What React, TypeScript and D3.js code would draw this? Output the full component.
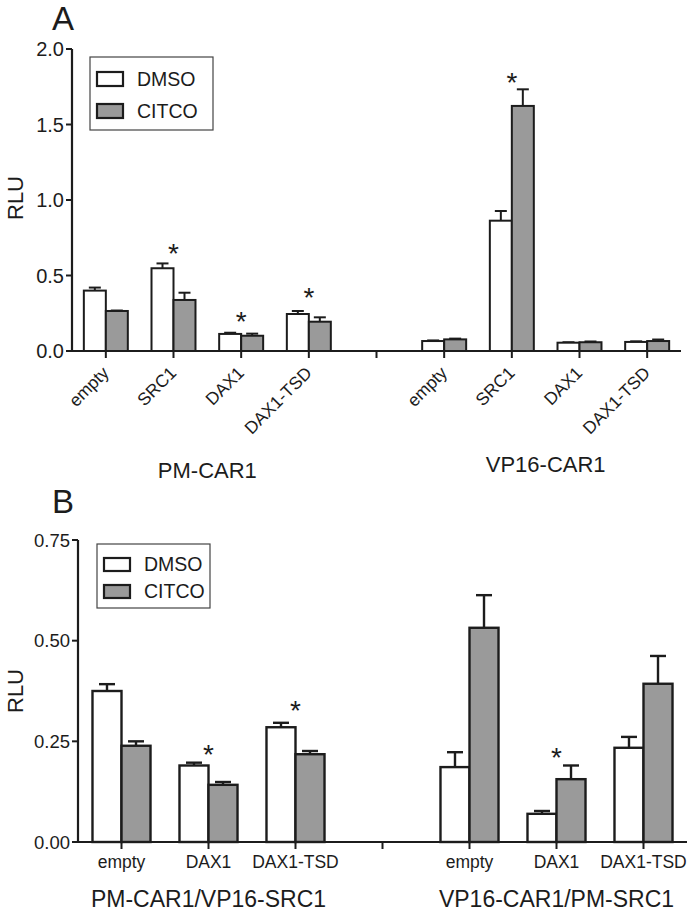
import React from "react";
import * as d3 from "d3";

// ---------- Panel A data ----------
const groupsA = ["PM-CAR1", "VP16-CAR1"];
const categoriesA = ["empty", "SRC1", "DAX1", "DAX1-TSD"];
const dmsoA = [0.40, 0.548, 0.113, 0.245, 0.066, 0.863, 0.055, 0.06];
const dmsoErrA = [0.02, 0.032, 0.008, 0.02, 0.004, 0.064, 0.003, 0.004];
const citcoA = [0.265, 0.338, 0.101, 0.194, 0.077, 1.623, 0.058, 0.066];
const citcoErrA = [0.003, 0.048, 0.014, 0.029, 0.005, 0.11, 0.005, 0.01];
const starIdxA = [1, 2, 3, 5];
const starValA = [0.675, 0.225, 0.385, 1.81];
const yTicksA = [0, 0.5, 1.0, 1.5, 2.0];

// ---------- Panel B data ----------
const groupsB = ["PM-CAR1/VP16-SRC1", "VP16-CAR1/PM-SRC1"];
const categoriesB = ["empty", "DAX1", "DAX1-TSD"];
const dmsoB = [0.375, 0.19, 0.285, 0.186, 0.07, 0.234];
const dmsoErrB = [0.017, 0.007, 0.011, 0.037, 0.007, 0.027];
const citcoB = [0.239, 0.142, 0.218, 0.532, 0.156, 0.393];
const citcoErrB = [0.011, 0.007, 0.008, 0.081, 0.034, 0.069];
const starIdxB = [1, 2, 4];
const starValB = [0.228, 0.338, 0.222];
const yTicksB = [0, 0.25, 0.5, 0.75];

const legendLabels = ["DMSO", "CITCO"];
const FONT = "'Liberation Sans', Arial, sans-serif";
const INK = "#1c1c1c";
const GRAY = "#9a9a9a";

type PanelProps = {
  letter: string;
  letterY: number;
  groups: string[];
  cats: string[];
  dmso: number[];
  dmsoErr: number[];
  citco: number[];
  citcoErr: number[];
  starIdx: number[];
  starVal: number[];
  yTicks: number[];
  yMax: number;
  tickFmt: (v: number) => string;
  x0: number;
  x1: number;
  yTop: number;
  yBottom: number;
  barFrac: number;
  capW: number;
  strokeW: number;
  tickFont: number;
  rotated: boolean;
  catFont: number;
  catY: number;
  groupFont: number;
  groupY: number[];
  rluY: number;
  legend: { x: number; y: number; w: number; h: number; rowY: number[]; sw: number; sh: number; font: number };
};

function Panel(p: PanelProps) {
  const slots: string[] = [];
  p.groups.forEach((g, gi) => {
    p.cats.forEach((c) => slots.push(`${gi}|${c}`));
    if (gi < p.groups.length - 1) slots.push(`gap${gi}`);
  });
  const x = d3.scaleBand<string>().domain(slots).range([p.x0, p.x1]).padding(0);
  const y = d3.scaleLinear().domain([0, p.yMax]).range([p.yBottom, p.yTop]);
  const inner = d3
    .scaleBand<string>()
    .domain(["DMSO", "CITCO"])
    .range([0, x.bandwidth() * p.barFrac]);
  const offset = (x.bandwidth() * (1 - p.barFrac)) / 2;

  const items: { key: string; cx: number; i: number; cat: string }[] = [];
  let idx = 0;
  p.groups.forEach((g, gi) => {
    p.cats.forEach((c) => {
      const key = `${gi}|${c}`;
      items.push({ key, cx: (x(key) as number) + x.bandwidth() / 2, i: idx, cat: c });
      idx++;
    });
  });

  const gapTicks = slots.filter((s) => s.startsWith("gap")).map((s) => (x(s) as number) + x.bandwidth() / 2);

  const groupCenters = p.groups.map((g, gi) => {
    const first = items[gi * p.cats.length];
    const last = items[gi * p.cats.length + p.cats.length - 1];
    return (first.cx + last.cx) / 2;
  });

  const bar = (cx: number, series: string, v: number, e: number, fill: string, k: string) => {
    const left = cx - x.bandwidth() / 2 + offset + (inner(series) as number);
    const w = inner.bandwidth();
    const mid = left + w / 2;
    return (
      <g key={k}>
        {e > 0 && (
          <g stroke={INK} strokeWidth={p.strokeW}>
            <line x1={mid} x2={mid} y1={y(v)} y2={y(v + e)} />
            <line x1={mid - p.capW / 2} x2={mid + p.capW / 2} y1={y(v + e)} y2={y(v + e)} />
          </g>
        )}
        <rect x={left} y={y(v)} width={w} height={y(0) - y(v)} fill={fill} stroke={INK} strokeWidth={p.strokeW} />
      </g>
    );
  };

  return (
    <g fontFamily={FONT} fill={INK}>
      <text x={52} y={p.letterY} fontSize={33}>
        {p.letter}
      </text>
      <text
        transform={`translate(${23},${p.rluY}) rotate(-90)`}
        textAnchor="middle"
        fontSize={22}
      >
        RLU
      </text>
      {/* bars */}
      {items.map((it) => (
        <g key={it.key}>
          {bar(it.cx, "DMSO", p.dmso[it.i], p.dmsoErr[it.i], "#ffffff", "d")}
          {bar(it.cx, "CITCO", p.citco[it.i], p.citcoErr[it.i], GRAY, "c")}
        </g>
      ))}
      {/* y axis */}
      <line x1={p.x0} x2={p.x0} y1={y(p.yMax)} y2={y(0)} stroke={INK} strokeWidth={2.2} />
      {p.yTicks.map((t) => (
        <g key={t}>
          <line x1={p.x0 - 6} x2={p.x0} y1={y(t)} y2={y(t)} stroke={INK} strokeWidth={2} />
          <text x={p.x0 - 8} y={y(t)} dy="0.36em" textAnchor="end" fontSize={p.tickFont}>
            {p.tickFmt(t)}
          </text>
        </g>
      ))}
      {/* x axis */}
      <line x1={p.x0 - 6} x2={p.x1} y1={y(0)} y2={y(0)} stroke={INK} strokeWidth={2.2} />
      {items.map((it) => (
        <line key={"t" + it.key} x1={it.cx} x2={it.cx} y1={y(0)} y2={y(0) + 7} stroke={INK} strokeWidth={2} />
      ))}
      {gapTicks.map((gx, i) => (
        <line key={"g" + i} x1={gx} x2={gx} y1={y(0)} y2={y(0) + 7} stroke={INK} strokeWidth={2} />
      ))}
      {/* category labels */}
      {items.map((it) =>
        p.rotated ? (
          <text
            key={"l" + it.key}
            transform={`translate(${it.cx + 4},${y(0) + 23}) rotate(-45)`}
            textAnchor="end"
            fontSize={p.catFont}
          >
            {it.cat}
          </text>
        ) : (
          <text key={"l" + it.key} x={it.cx} y={p.catY} textAnchor="middle" fontSize={p.catFont}>
            {it.cat}
          </text>
        )
      )}
      {/* group labels */}
      {p.groups.map((g, gi) => (
        <text key={g} x={groupCenters[gi]} y={p.groupY[gi]} textAnchor="middle" fontSize={p.groupFont}>
          {g}
        </text>
      ))}
      {/* stars */}
      {p.starIdx.map((si, k) => (
        <text key={"s" + k} x={items[si].cx} y={y(p.starVal[k]) + 14} textAnchor="middle" fontSize={28}>
          *
        </text>
      ))}
      {/* legend */}
      <rect x={p.legend.x} y={p.legend.y} width={p.legend.w} height={p.legend.h} fill="#fff" stroke="#444" strokeWidth={1.2} />
      {legendLabels.map((l, i) => (
        <g key={l}>
          <rect
            x={p.legend.x + 7}
            y={p.legend.rowY[i] - p.legend.sh}
            width={p.legend.sw}
            height={p.legend.sh}
            fill={i === 0 ? "#fff" : GRAY}
            stroke={INK}
            strokeWidth={2.2}
          />
          <text x={p.legend.x + 47} y={p.legend.rowY[i]} fontSize={p.legend.font}>
            {l}
          </text>
        </g>
      ))}
    </g>
  );
}

export default function App() {
  return (
    <svg
      width={690}
      height={913}
      style={{ position: "absolute", left: 0, top: 0, background: "#fff" }}
    >
      <rect width={690} height={913} fill="#fff" />
      <Panel
        letter="A"
        letterY={30}
        groups={groupsA}
        cats={categoriesA}
        dmso={dmsoA}
        dmsoErr={dmsoErrA}
        citco={citcoA}
        citcoErr={citcoErrA}
        starIdx={starIdxA}
        starVal={starValA}
        yTicks={yTicksA}
        yMax={2.0}
        tickFmt={d3.format(".1f")}
        x0={72}
        x1={681}
        yTop={49}
        yBottom={351}
        barFrac={0.65}
        capW={12}
        strokeW={2}
        tickFont={20}
        rotated={true}
        catFont={17.5}
        catY={0}
        groupFont={22}
        groupY={[478, 472]}
        rluY={198}
        legend={{ x: 90, y: 57, w: 123, h: 73, rowY: [86, 118], sw: 26, sh: 14, font: 19.5 }}
      />
      <Panel
        letter="B"
        letterY={513}
        groups={groupsB}
        cats={categoriesB}
        dmso={dmsoB}
        dmsoErr={dmsoErrB}
        citco={citcoB}
        citcoErr={citcoErrB}
        starIdx={starIdxB}
        starVal={starValB}
        yTicks={yTicksB}
        yMax={0.75}
        tickFmt={d3.format(".2f")}
        x0={78}
        x1={687}
        yTop={540}
        yBottom={842}
        barFrac={0.667}
        capW={16}
        strokeW={2.4}
        tickFont={18.5}
        rotated={false}
        catFont={17.5}
        catY={868}
        groupFont={23}
        groupY={[907, 907]}
        rluY={691}
        legend={{ x: 97, y: 544, w: 113, h: 64, rowY: [571, 598], sw: 26, sh: 13, font: 19.5 }}
      />
    </svg>
  );
}
